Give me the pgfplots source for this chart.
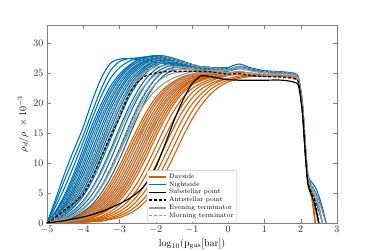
\documentclass[border=0pt]{standalone}
\usepackage{pgfplots}
\usepackage{pgfplotstable}
\pgfplotsset{compat=1.18}
\definecolor{orangec}{HTML}{D55E00}
\definecolor{bluec}{HTML}{0072B2}
\definecolor{grayc}{HTML}{999999}
\definecolor{framec}{HTML}{808080}

% rise part, x from -5 to 0
\pgfplotstableread{
x b1 b2 b3 b4 b5 b6 b7 b8 b9 b10 b11
-5 0 0 0 0 0 0 0 0 0 0 0
-4.75 4.2 3.6 2.1 1.7 1.3 1.1 0.9 0.7 0.5 0.3 0.2
-4.5 8.5 7.4 4.9 4.0 3.3 2.7 2.2 1.7 1.4 0.8 0.5
-4.25 12.3 11.0 8.4 7.2 6.0 5.0 4.1 3.3 2.7 1.7 1.0
-4 16.0 14.6 12.4 10.9 9.4 8.0 6.7 5.5 4.5 3.0 1.9
-3.75 20.4 18.6 16.4 14.8 13.2 11.5 10.0 8.5 7.1 4.8 3.1
-3.5 24.2 22.4 19.9 18.5 17.0 15.3 13.6 11.9 10.3 7.3 5.0
-3.25 26.6 25.4 22.8 21.6 20.3 18.9 17.3 15.6 13.9 10.5 7.5
-3 27.3 26.9 24.8 24.0 23.0 21.9 20.6 19.1 17.5 14.1 10.6
-2.75 27.4 27.4 26.2 25.7 25.0 24.2 23.2 22.0 20.8 17.7 14.2
-2.5 27.2 27.5 27.2 26.8 26.3 25.8 25.1 24.3 23.3 20.8 17.7
-2.25 27.0 27.4 27.7 27.4 27.1 26.8 26.3 25.8 25.1 23.3 20.8
-2 26.8 27.2 27.8 27.7 27.5 27.3 27.0 26.6 26.2 25.0 23.2
-1.75 26.6 26.9 27.8 27.7 27.6 27.4 27.3 27.0 26.8 25.9 24.7
-1.5 26.4 26.6 27.4 27.3 27.3 27.2 27.1 26.9 26.8 26.3 25.5
-1.25 26.2 26.3 26.9 26.8 26.8 26.7 26.7 26.6 26.5 26.2 25.7
-1 26.0 26.1 26.4 26.4 26.4 26.4 26.3 26.2 26.2 26.0 25.7
-0.75 25.8 25.9 26.0 26.0 26.0 26.0 26.0 26.0 25.9 25.8 25.6
-0.5 25.6 25.8 25.9 25.9 25.9 25.9 25.9 25.9 25.8 25.7 25.6
-0.25 25.6 25.8 25.7 25.8 25.7 25.7 25.8 25.7 25.7 25.6 25.4
0 25.6 25.9 25.6 25.9 25.6 25.6 25.9 25.6 25.6 25.6 25.3
}\bluerise

\pgfplotstableread{
x c1 c2 c3 c4 c5 c6 c7 c8 c9
-5 0 0 0 0 0 0 0 0 0
-4.75 2.9 1.9 1.5 1.2 1.0 0.8 0.6 0.4 0.25
-4.5 6.1 4.5 3.6 3.0 2.4 1.9 1.5 1.1 0.65
-4.25 9.7 7.8 6.6 5.5 4.5 3.7 3.0 2.2 1.35
-4 13.5 11.6 10.1 8.7 7.3 6.1 5.0 3.7 2.4
-3.75 17.5 15.6 14.0 12.3 10.7 9.2 7.8 5.9 3.9
-3.5 21.2 19.2 17.7 16.1 14.4 12.7 11.1 8.8 6.1
-3.25 24.1 22.2 20.9 19.6 18.1 16.4 14.7 12.2 9.0
-3 25.9 24.4 23.5 22.4 21.2 19.8 18.3 15.8 12.3
-2.75 26.9 26.0 25.3 24.6 23.7 22.6 21.4 19.2 16.0
-2.5 27.5 27.1 26.5 26.1 25.5 24.7 23.8 22.0 19.2
-2.25 27.7 27.7 27.2 27.0 26.6 26.1 25.5 24.2 22.0
-2 27.6 27.9 27.5 27.5 27.3 26.9 26.5 25.6 24.1
-1.75 27.3 27.8 27.5 27.7 27.6 27.3 27.1 26.4 25.4
-1.5 26.9 27.4 27.2 27.4 27.4 27.2 27.1 26.6 25.9
-1.25 26.5 26.9 26.8 26.9 26.9 26.7 26.7 26.4 26.0
-1 26.2 26.4 26.4 26.4 26.4 26.3 26.3 26.1 25.9
-0.75 25.9 26.0 26.0 26.0 26.0 26.0 26.0 25.9 25.7
-0.5 25.8 25.9 25.9 25.9 25.9 25.9 25.9 25.8 25.6
-0.25 25.7 25.8 25.7 25.7 25.8 25.7 25.7 25.7 25.4
0 25.6 25.9 25.6 25.6 25.9 25.6 25.6 25.6 25.3
}\bluerisetwo

\pgfplotstableread{
x o1 o2 o3 o4 o5 o6 o7 o8 o9 o10 o11 o12 o13
-5 0 0 0 0 0 0 0 0 0 0 0 0 0
-4.75 0.4 0.3 0.2 0.2 0.1 0.1 0.1 0.1 0.05 0.03 0.02 0.02 0.01
-4.5 1.0 0.7 0.6 0.5 0.4 0.3 0.2 0.2 0.1 0.07 0.05 0.04 0.03
-4.25 1.9 1.5 1.2 0.9 0.7 0.6 0.5 0.4 0.3 0.13 0.1 0.08 0.06
-4 3.3 2.6 2.1 1.7 1.3 1.0 0.8 0.6 0.5 0.24 0.2 0.15 0.1
-3.75 5.2 4.3 3.5 2.8 2.2 1.8 1.4 1.1 0.9 0.4 0.3 0.26 0.2
-3.5 7.8 6.6 5.4 4.4 3.6 2.9 2.3 1.8 1.5 0.7 0.6 0.4 0.3
-3.25 10.9 9.4 8.0 6.7 5.5 4.5 3.7 2.9 2.4 1.2 0.9 0.7 0.6
-3 14.1 12.6 11.0 9.5 8.1 6.7 5.6 4.6 3.7 1.9 1.5 1.2 0.9
-2.75 17.2 15.7 14.2 12.7 11.1 9.5 8.1 6.8 5.6 3.0 2.4 1.9 1.5
-2.5 19.8 18.6 17.3 15.8 14.3 12.6 11.1 9.6 8.1 4.6 3.8 3.0 2.4
-2.25 21.7 20.9 19.8 18.6 17.3 15.8 14.3 12.7 11.1 6.8 5.7 4.6 3.8
-2 23.1 22.5 21.8 20.9 19.8 18.5 17.3 15.8 14.3 9.6 8.2 6.9 5.7
-1.75 24.0 23.6 23.1 22.5 21.8 20.8 19.8 18.6 17.3 12.8 11.2 9.7 8.2
-1.5 24.6 24.4 24.0 23.6 23.2 22.4 21.7 20.8 19.8 15.9 14.4 12.8 11.2
-1.25 25.0 24.8 24.7 24.4 24.1 23.5 23.0 22.5 21.7 18.7 17.4 15.9 14.4
-1 25.1 25.0 24.9 24.8 24.6 24.2 23.8 23.5 23.0 20.8 19.8 18.6 17.3
-0.75 25.1 25.0 24.9 24.8 24.7 24.5 24.2 24.0 23.7 22.3 21.5 20.7 19.6
-0.5 25.1 25.0 24.9 24.9 24.8 24.7 24.5 24.4 24.2 23.2 22.8 22.2 21.4
-0.25 25.0 25.0 24.7 25.0 24.9 24.7 24.6 24.6 24.4 23.8 23.6 23.2 22.7
0 25.0 25.0 24.6 25.0 25.0 24.6 24.6 24.6 24.6 24.1 24.1 23.8 23.5
}\orangerise

\pgfplotstableread{
x p1 p2 p3 p4 p5 p6 p7 p8 g5
-5 0 0 0 0 0 0 0 0 0
-4.75 0.35 0.25 0.2 0.15 0.1 0.1 0.1 0.08 0.1
-4.5 0.85 0.65 0.55 0.45 0.35 0.25 0.2 0.15 0.2
-4.25 1.7 1.35 1.05 0.8 0.65 0.55 0.45 0.35 0.4
-4 2.95 2.35 1.9 1.5 1.15 0.9 0.7 0.55 0.7
-3.75 4.75 3.9 3.15 2.5 2.0 1.6 1.25 1.0 1.2
-3.5 7.2 6.0 4.9 4.0 3.25 2.6 2.05 1.65 1.9
-3.25 10.15 8.7 7.35 6.1 5.0 4.1 3.3 2.65 3.1
-3 13.35 11.8 10.25 8.8 7.4 6.15 5.1 4.15 4.9
-2.75 16.45 14.95 13.45 11.9 10.3 8.8 7.45 6.2 7.3
-2.5 19.2 17.95 16.55 15.05 13.45 11.85 10.35 8.85 10.3
-2.25 21.3 20.35 19.2 17.95 16.55 15.05 13.5 11.9 13.7
-2 22.8 22.15 21.35 20.35 19.15 17.9 16.55 15.05 17.0
-1.75 23.8 23.35 22.8 22.15 21.3 20.3 19.2 17.95 20.0
-1.5 24.5 24.2 23.8 23.4 22.8 22.05 21.25 20.3 22.3
-1.25 24.9 24.75 24.55 24.25 23.8 23.25 22.75 22.1 23.9
-1 25.2 25.2 24.85 24.8 24.4 24.0 23.65 23.25 24.8
-0.75 25.3 25.3 24.85 25.1 24.6 24.35 24.1 23.85 25.2
-0.5 25.2 25.1 24.9 25.1 24.75 24.6 24.45 24.3 25.2
-0.25 25.0 24.8 24.9 25.0 24.7 24.65 24.6 24.5 25.1
0 25.0 24.6 25.0 25.0 24.6 24.6 24.6 24.6 25.0
}\orangerisetwo

\pgfplotstableread{
x b12 q1 q2
-5 0 0 0
-4.75 0.2 0.04 0.03
-4.5 0.7 0.1 0.08
-4.25 1.3 0.2 0.17
-4 2.4 0.4 0.3
-3.75 3.9 0.7 0.5
-3.5 6.0 1.1 0.9
-3.25 9.0 1.9 1.5
-3 12.3 3.0 2.4
-2.75 15.9 4.6 3.7
-2.5 19.4 6.8 5.7
-2.25 22.1 9.6 8.2
-2 24.1 12.7 11.2
-1.75 25.4 15.9 14.3
-1.5 25.9 18.7 17.3
-1.25 26.0 20.9 19.8
-1 25.9 22.4 21.7
-0.75 25.7 23.3 22.9
-0.5 25.7 23.9 23.6
-0.25 25.6 24.3 24.2
0 25.6 24.6 24.6
}\extra

\pgfplotstableread{
x g1 g2 g3 g4 d1 d2 d3 d4 d5
-5 0 0 0 0 0 0 0 0 0
-4.75 0.4 0.2 0.8 0.1 1.5 1.0 0.6 0.25 0.1
-4.5 1.0 0.6 2.1 0.3 3.7 2.5 1.6 0.65 0.25
-4.25 2.0 1.3 3.9 0.6 6.6 4.6 3.0 1.4 0.55
-4 3.5 2.3 6.4 1.1 10.2 7.4 5.0 2.5 0.9
-3.75 5.7 3.8 9.6 1.9 14.0 10.8 7.8 4.0 1.6
-3.5 8.4 5.9 13.1 3.1 17.8 14.5 11.1 6.2 2.6
-3.25 11.7 8.6 16.6 4.9 21.0 18.1 14.8 9.0 4.1
-3 15.2 11.9 19.8 7.3 23.5 21.3 18.3 12.4 6.2
-2.75 18.5 15.3 22.3 10.3 25.4 23.7 21.4 16.0 8.8
-2.5 21.3 18.6 24.2 13.7 26.6 25.5 23.8 19.3 11.9
-2.25 23.3 21.3 25.3 17.1 27.3 26.6 25.5 22.1 15.1
-2 24.7 23.2 26.0 19.9 27.6 27.2 26.4 24.1 17.9
-1.75 25.4 24.4 26.2 22.1 27.7 27.4 26.9 25.3 20.3
-1.5 25.6 25.0 26.1 23.4 27.3 27.2 26.9 25.9 22.1
-1.25 25.6 25.2 25.9 24.2 26.8 26.7 26.6 26.0 23.3
-1 25.5 25.3 25.7 24.7 26.4 26.4 26.2 25.9 24.0
-0.75 25.4 25.3 25.5 24.9 26.0 26.0 26.0 25.7 24.4
-0.5 25.3 25.4 25.3 24.9 25.9 25.9 25.9 25.6 24.6
-0.25 25.1 25.4 25.2 24.9 25.7 25.7 25.7 25.5 24.6
0 25.0 25.4 25.0 25.0 25.6 25.6 25.6 25.4 24.6
}\grayrise

\pgfplotstableread{
x k kd
-5 0 0
-4.75 0.2 1.0
-4.5 0.4 2.2
-4.25 0.7 3.4
-4 1.0 4.8
-3.75 1.4 7.6
-3.5 1.9 11.0
-3.25 2.5 14.4
-3 3.2 17.6
-2.75 4.0 21.3
-2.5 5.1 23.5
-2.25 6.7 24.6
-2 9.3 25.0
-1.75 13.0 25.2
-1.5 17.0 25.3
-1.25 20.5 25.3
-1 23.2 25.3
-0.75 24.5 25.3
-0.5 24.4 25.2
-0.25 24.1 25.0
0 23.9 24.8
}\blackrise

% plateau and drop, x from 0 to 2.7
\pgfplotstableread{
x tb1 tb2 tb3 to1 to2 to4 to5 to6 tg1 tg2 tk tkd
0 25.6 25.9 25.3 25.0 24.6 23.8 23.5 24.1 25.0 25.4 23.9 24.8
0.3 26.1 26.5 25.7 25.1 24.8 24.3 24.1 24.5 25.3 25.9 23.8 24.9
0.6 25.7 25.9 25.5 25.0 24.8 24.5 24.4 24.6 25.0 25.4 23.8 24.6
1.0 25.3 25.4 25.2 24.7 24.6 24.5 24.5 24.6 24.8 25.0 23.8 24.4
1.5 25.1 25.2 25.0 24.6 24.5 24.4 24.5 24.5 24.7 24.9 23.8 24.3
1.85 24.8 24.9 24.6 24.3 24.2 24.1 24.2 24.2 24.4 24.6 23.4 24.0
1.95 23.8 24.0 23.6 23.4 23.2 23.1 23.2 23.3 23.5 23.7 22.6 23.1
2.05 19.5 20.0 19.0 18.8 18.5 18.3 18.6 18.7 19.0 19.2 18.0 18.4
2.13 12.5 13.0 12.0 11.8 11.5 11.3 11.6 11.7 12.0 12.2 11.0 11.4
2.2 7.8 8.0 7.2 7.0 6.8 6.6 6.9 7.0 7.3 7.5 6.4 6.8
2.3 6.2 6.8 5.5 4.8 4.5 4.2 4.6 4.7 5.4 5.8 4.6 5.0
2.4 5.2 6.0 4.0 0 2.0 0 2.2 0 4.2 4.7 2.8 3.5
2.5 3.8 4.5 2.0 nan 0 nan 0 nan 2.5 3.0 0 0
2.6 2.0 2.5 0 nan nan nan nan nan 0 0 nan nan
2.7 0 0 nan nan nan nan nan nan nan nan nan nan
}\tails

\begin{document}
\begin{tikzpicture}
\useasboundingbox (-47pt,-26pt) rectangle (327pt,223pt);
\begin{axis}[
  at={(0pt,0pt)}, anchor=south west,
  scale only axis, width=290pt, height=198pt,
  xmin=-5, xmax=3, ymin=0, ymax=33,
  xtick={-5,-4,-3,-2,-1,0,1,2,3},
  ytick={0,5,10,15,20,25,30},
  tick align=inside, major tick length=4pt,
  axis line style={framec},
  every tick/.style={framec},
  tick label style={black!85},
  xlabel={$\log_{10}(\mathrm{p_{gas}[bar]})$},
  ylabel={$\rho_d/\rho\ \times 10^{-3}$},
  xlabel style={yshift=2pt},
  ylabel style={yshift=-2pt},
  legend style={at={(0.5,0.004)}, anchor=south, font=\fontsize{6.5}{7.5}\selectfont,
    draw=black!25, rounded corners=2pt, fill=white,
    row sep=-2.3pt, inner sep=1.5pt},
  legend cell align=left,
]
\addlegendimage{color=orangec, solid, line width=1.4pt}\addlegendentry{Dayside}
\addlegendimage{color=bluec, solid, line width=1.4pt}\addlegendentry{Nightside}
\addlegendimage{color=black, solid, line width=1.4pt}\addlegendentry{Substellar point}
\addlegendimage{color=black, line width=1.4pt, dash pattern=on 3pt off 2pt}\addlegendentry{Antistellar point}
\addlegendimage{color=grayc, solid, line width=1.4pt}\addlegendentry{Evening terminator}
\addlegendimage{color=grayc, line width=1.4pt, dash pattern=on 3pt off 2pt}\addlegendentry{Morning terminator}

% dayside
\pgfplotsinvokeforeach{o4,o5,o6,o7,o8,o9,o10,o11,o12,o13}{
  \addplot[orangec, line width=1.1pt, smooth, forget plot] table[x=x, y=#1] {\orangerise};
}
\pgfplotsinvokeforeach{p4,p5,p6,p7,p8}{
  \addplot[orangec, line width=1.1pt, smooth, forget plot] table[x=x, y=#1] {\orangerisetwo};
}
\pgfplotsinvokeforeach{q1,q2}{
  \addplot[orangec, line width=1.1pt, smooth, forget plot] table[x=x, y=#1] {\extra};
}
\pgfplotsinvokeforeach{to1,to2,to4,to5,to6}{
  \addplot[orangec, line width=1.1pt, smooth, forget plot] table[x=x, y=#1] {\tails};
}
% nightside
\pgfplotsinvokeforeach{b1,b2,b3,b4,b5,b6,b7,b8,b9,b10,b11}{
  \addplot[bluec, line width=1.1pt, smooth, forget plot] table[x=x, y=#1] {\bluerise};
}
\pgfplotsinvokeforeach{c1,c2,c3,c4,c5,c6,c7,c8,c9}{
  \addplot[bluec, line width=1.1pt, smooth, forget plot] table[x=x, y=#1] {\bluerisetwo};
}
\addplot[bluec, line width=1.1pt, smooth, forget plot] table[x=x, y=b12] {\extra};
\pgfplotsinvokeforeach{tb1,tb2,tb3}{
  \addplot[bluec, line width=1.1pt, smooth, forget plot] table[x=x, y=#1] {\tails};
}
% evening terminator
\pgfplotsinvokeforeach{g1,g2,g3,g4}{
  \addplot[grayc, line width=1.1pt, smooth, forget plot] table[x=x, y=#1] {\grayrise};
}
\pgfplotsinvokeforeach{g5,p2}{
  \addplot[grayc, line width=1.1pt, smooth, forget plot] table[x=x, y=#1] {\orangerisetwo};
}
\pgfplotsinvokeforeach{tg1,tg2}{
  \addplot[grayc, line width=1.1pt, smooth, forget plot] table[x=x, y=#1] {\tails};
}
% morning terminator
\pgfplotsinvokeforeach{d1,d2,d3,d4,d5}{
  \addplot[grayc, line width=1.1pt, dash pattern=on 2.5pt off 2pt, smooth, forget plot] table[x=x, y=#1] {\grayrise};
}
\pgfplotsinvokeforeach{tb1,tg2,to2}{
  \addplot[grayc, line width=1.1pt, dash pattern=on 2.5pt off 2pt, smooth, forget plot] table[x=x, y=#1] {\tails};
}
% substellar / antistellar
\addplot[black, line width=1.2pt, smooth, forget plot] table[x=x, y=k] {\blackrise};
\addplot[black, line width=1.2pt, smooth, forget plot] table[x=x, y=tk] {\tails};
\addplot[black, line width=1.2pt, dash pattern=on 3pt off 2pt, smooth, forget plot] table[x=x, y=kd] {\blackrise};
\addplot[black, line width=1.2pt, dash pattern=on 3pt off 2pt, smooth, forget plot] table[x=x, y=tkd] {\tails};
\end{axis}
\end{tikzpicture}
\end{document}
